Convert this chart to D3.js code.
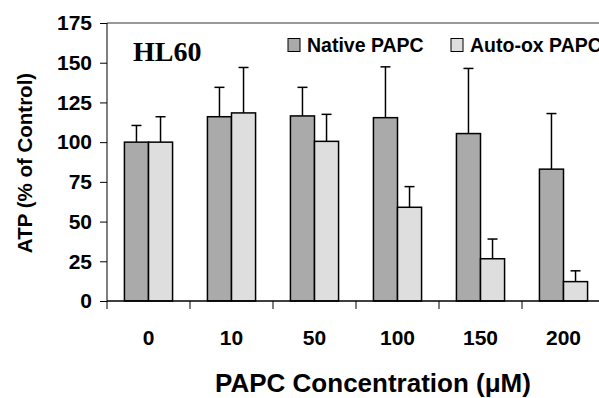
<!DOCTYPE html>
<html>
<head>
<meta charset="utf-8">
<script src="https://cdn.jsdelivr.net/npm/d3@7"></script>
<style>
  body { margin: 0; background: #fff; }
  text { font-family: Arial, "Liberation Sans", sans-serif; font-weight: bold; fill: #000; }
</style>
</head>
<body>
<div id="chart"></div>
<script>
// Data
var concentrations = ["0", "10", "50", "100", "150", "200"];
var nativeMean = [100, 116, 116.5, 115.4, 105.4, 83];
var nativeErr = [10.5, 18.5, 18, 32, 41, 35];
var autoMean = [100, 118.4, 100.5, 59, 26.6, 12.2];
var autoErr = [16, 28.6, 17, 13, 12.4, 6.8];
var seriesNames = ["Native PAPC", "Auto-ox PAPC"];
var seriesColors = ["#aaaaaa", "#dedede"];
var yTicks = [0, 25, 50, 75, 100, 125, 150, 175];

var w = 599;
var h = 398;

// plot area
var plotLeft = 107, plotTop = 23, plotBottom = 301;
var bandW = 83;

var svg = d3.select("#chart")
  .append("svg")
  .attr("width", w)
  .attr("height", h);

var x = d3.scaleBand()
  .domain(concentrations)
  .range([plotLeft, plotLeft + bandW * concentrations.length])
  .paddingInner(0.42)
  .paddingOuter(0.21);

var xSub = d3.scaleBand()
  .domain([0, 1])
  .range([0, x.bandwidth()]);

var y = d3.scaleLinear()
  .domain([0, 175])
  .range([plotBottom, plotTop]);

// top frame line
svg.append("line")
  .attr("x1", plotLeft).attr("x2", w)
  .attr("y1", y(175)).attr("y2", y(175))
  .attr("stroke", "#333")
  .attr("stroke-width", 1);

// build rows for bars
var rows = [];
concentrations.forEach(function (c, i) {
  rows.push({ c: c, s: 0, v: nativeMean[i], e: nativeErr[i] });
  rows.push({ c: c, s: 1, v: autoMean[i], e: autoErr[i] });
});

// error bars (upper only)
var err = svg.append("g").attr("class", "errors");
rows.forEach(function (d) {
  var cx = x(d.c) + xSub(d.s) + xSub.bandwidth() / 2;
  err.append("line")
    .attr("x1", cx).attr("x2", cx)
    .attr("y1", y(d.v)).attr("y2", y(d.v + d.e))
    .attr("stroke", "#000").attr("stroke-width", 1.5);
  err.append("line")
    .attr("x1", cx - 5).attr("x2", cx + 5)
    .attr("y1", y(d.v + d.e)).attr("y2", y(d.v + d.e))
    .attr("stroke", "#000").attr("stroke-width", 1.5);
});

// bars
svg.append("g")
  .selectAll("rect")
  .data(rows)
  .enter()
  .append("rect")
  .attr("x", function (d) { return x(d.c) + xSub(d.s); })
  .attr("y", function (d) { return y(d.v); })
  .attr("width", xSub.bandwidth())
  .attr("height", function (d) { return y(0) - y(d.v); })
  .attr("fill", function (d) { return seriesColors[d.s]; })
  .attr("stroke", "#000")
  .attr("stroke-width", 1.5);

// y axis
var yAxis = d3.axisLeft(y).tickValues(yTicks).tickSize(7).tickPadding(8);
var gy = svg.append("g")
  .attr("transform", "translate(" + plotLeft + ",0)")
  .call(yAxis);
gy.select(".domain").attr("d", "M0," + plotTop + "V" + (plotBottom + 8));
gy.selectAll("text").style("font-size", "21px");

// x axis: category boundary ticks below, labels centered
svg.append("line")
  .attr("x1", plotLeft).attr("x2", w)
  .attr("y1", plotBottom).attr("y2", plotBottom)
  .attr("stroke", "#000").attr("stroke-width", 1.5);
concentrations.forEach(function (c, i) {
  if (i > 0) {
    var bx = x(c) - x.step() * x.paddingInner() / 2;
    svg.append("line")
      .attr("x1", bx).attr("x2", bx)
      .attr("y1", plotBottom).attr("y2", plotBottom + 8)
      .attr("stroke", "#000").attr("stroke-width", 1);
  }
  svg.append("text")
    .attr("x", x(c) + x.bandwidth() / 2)
    .attr("y", 345)
    .attr("text-anchor", "middle")
    .style("font-size", "21px")
    .text(c);
});

// axis titles
svg.append("text")
  .attr("x", 373)
  .attr("y", 392)
  .attr("text-anchor", "middle")
  .style("font-size", "26px")
  .text("PAPC Concentration (\u03bcM)");

svg.append("text")
  .attr("transform", "translate(32," + 163 + ") rotate(-90)")
  .attr("text-anchor", "middle")
  .style("font-size", "20.5px")
  .text("ATP (% of Control)");

// panel label
svg.append("text")
  .attr("x", 133)
  .attr("y", 61)
  .style("font-family", "'Liberation Serif', 'Times New Roman', serif")
  .style("font-size", "28px")
  .text("HL60");

// legend
var legendX = [288, 451];
seriesNames.forEach(function (name, i) {
  svg.append("rect")
    .attr("x", legendX[i]).attr("y", 38.5)
    .attr("width", 12).attr("height", 13)
    .attr("fill", seriesColors[i])
    .attr("stroke", "#000").attr("stroke-width", 1);
  svg.append("text")
    .attr("x", legendX[i] + 19)
    .attr("y", 52)
    .style("font-size", "19.5px")
    .text(name);
});
</script>
</body>
</html>
